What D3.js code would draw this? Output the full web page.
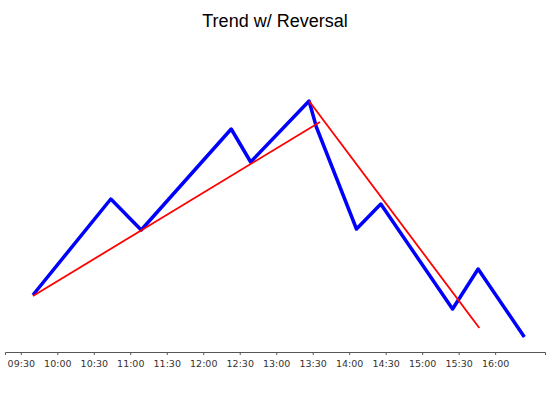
<!DOCTYPE html>
<html>
<head>
<meta charset="utf-8">
<script src="https://cdn.jsdelivr.net/npm/d3@7"></script>
<style>
  body { margin: 0; background: #fff; }
  .axis text { font-family: "DejaVu Sans", Verdana, sans-serif; font-size: 9.5px; fill: #333; }
  .axis path, .axis line { stroke: #555; }
</style>
</head>
<body>
<svg id="chart" width="550" height="400"></svg>
<script>
// price path (time, price)
const priceTimes = ["09:40", "10:44", "11:09", "12:23", "12:39", "13:27", "13:33", "14:06", "14:26", "15:25", "15:46", "16:24"];
const priceValues = [57, 153, 122, 223, 190, 251, 225, 123, 148, 43, 83, 15];
// trend lines
const upTrendTimes = ["09:40", "13:36"];
const upTrendValues = [56, 230];
const downTrendTimes = ["13:27", "15:47"];
const downTrendValues = [251, 24];
const tickLabels = ["09:30", "10:00", "10:30", "11:00", "11:30", "12:00", "12:30", "13:00", "13:30", "14:00", "14:30", "15:00", "15:30", "16:00"];

const parse = d3.timeParse("%H:%M");
const svg = d3.select("#chart");

const x = d3.scaleTime()
  .domain([parse("09:17"), parse("16:41")])
  .range([5, 545]);
const y = d3.scaleLinear()
  .domain([0, 260])
  .range([352, 92]);

const toPts = (ts, vs) => ts.map((t, i) => ({ t: parse(t), v: vs[i] }));
const line = d3.line().x(d => x(d.t)).y(d => y(d.v));

svg.append("text")
  .attr("x", 275).attr("y", 27)
  .attr("text-anchor", "middle")
  .style("font-family", "Liberation Sans, Arial, sans-serif")
  .style("font-size", "18px")
  .text("Trend w/ Reversal");

const xAxis = d3.axisBottom(x)
  .tickValues(tickLabels.map(parse))
  .tickFormat(d3.timeFormat("%H:%M"))
  .tickSize(3)
  .tickSizeOuter(3);
svg.append("g")
  .attr("class", "axis")
  .attr("transform", "translate(0,352)")
  .call(xAxis)
  .selectAll("text").attr("dy", "0.9em");

svg.append("path")
  .datum(toPts(priceTimes, priceValues))
  .attr("d", line)
  .attr("fill", "none")
  .attr("stroke", "#0000ff")
  .attr("stroke-width", 3.5)
  .attr("stroke-linejoin", "round");

[[upTrendTimes, upTrendValues], [downTrendTimes, downTrendValues]].forEach(([ts, vs]) => {
  svg.append("path")
    .datum(toPts(ts, vs))
    .attr("d", line)
    .attr("fill", "none")
    .attr("stroke", "#ff0000")
    .attr("stroke-width", 1.8);
});
</script>
</body>
</html>
